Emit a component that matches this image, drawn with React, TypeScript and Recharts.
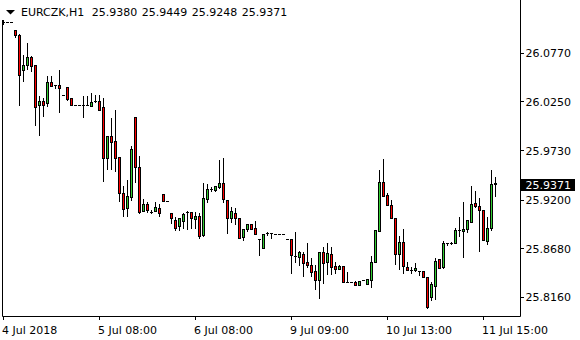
import React from 'react';
import { ComposedChart, Bar, XAxis, YAxis, ReferenceLine } from 'recharts';

const symbolLabel = 'EURCZK,H1';

const opens = [
  26.1105, 26.1105, 26.1105, 26.1014, 26.0971, 26.0591, 26.0648, 26.0730, 26.0645, 26.0214,
  26.0260, 26.0235, 26.0463, 26.0426, 26.0431, 26.0327, 26.0410, 26.0289, 26.0214, 26.0214,
  26.0214, 26.0214, 26.0206, 26.0263, 26.0257, 26.0192, 25.9653, 25.9885, 25.9829, 25.9664,
  25.9273, 25.9112, 25.9230, 26.0086, 25.9554, 25.9083, 25.9158, 25.9076, 25.9083, 25.9115,
  25.9262, 25.9190, 25.9059, 25.8987, 25.8923, 25.8980, 25.9070, 25.9076, 25.9001, 25.9030,
  25.8827, 25.9209, 25.9322, 25.9311, 25.9343, 25.9380, 25.9204, 25.9012, 25.9065, 25.9005,
  25.8802, 25.8888, 25.8944, 25.8902, 25.8784, 25.8684, 25.8845, 25.8845, 25.8834, 25.8834,
  25.8834, 25.8781, 25.8781, 25.8602, 25.8595, 25.8624, 25.8538, 25.8509, 25.8442, 25.8345,
  25.8642, 25.8535, 25.8624, 25.8495, 25.8466, 25.8495, 25.8327, 25.8327, 25.8321, 25.8295,
  25.8345, 25.8299, 25.8345, 25.8541, 25.8869, 25.9390, 25.9254, 25.9148, 25.9005, 25.8620,
  25.8749, 25.8488, 25.8452, 25.8452, 25.8438, 25.8438, 25.8374, 25.8167, 25.8281, 25.8567,
  25.8481, 25.8738, 25.8744, 25.8738, 25.8877, 25.8866, 25.8891, 25.8969, 25.9169, 25.9134,
  25.9094, 25.8762, 25.8898, 25.9380,
];

const highs = [
  26.1126, 26.1105, 26.1105, 26.1019, 26.0976, 26.0752, 26.0883, 26.0741, 26.0645, 26.0313,
  26.0292, 26.0527, 26.0527, 26.0436, 26.0591, 26.0327, 26.0410, 26.0289, 26.0214, 26.0214,
  26.0313, 26.0313, 26.0342, 26.0327, 26.0327, 26.0289, 25.9885, 26.0078, 26.0164, 25.9664,
  25.9351, 25.9415, 25.9779, 26.0086, 25.9672, 25.9212, 25.9183, 25.9094, 25.9176, 25.9158,
  25.9262, 25.9190, 25.9059, 25.9022, 25.9012, 25.9059, 25.9087, 25.9076, 25.9073, 25.9065,
  25.9380, 25.9369, 25.9337, 25.9348, 25.9629, 25.9647, 25.9204, 25.9129, 25.9112, 25.9005,
  25.8891, 25.8944, 25.8944, 25.8973, 25.8784, 25.8837, 25.8856, 25.8845, 25.8834, 25.8834,
  25.8834, 25.8781, 25.8781, 25.8856, 25.8656, 25.8648, 25.8744, 25.8578, 25.8503, 25.8642,
  25.8702, 25.8738, 25.8702, 25.8541, 25.8503, 25.8495, 25.8428, 25.8327, 25.8338, 25.8332,
  25.8345, 25.8356, 25.8602, 25.8880, 25.9522, 25.9636, 25.9273, 25.9201, 25.9005, 25.8816,
  25.8891, 25.8535, 25.8488, 25.8524, 25.8438, 25.8438, 25.8381, 25.8327, 25.8578, 25.8567,
  25.8766, 25.8738, 25.8755, 25.8898, 25.9022, 25.9176, 25.8987, 25.9351, 25.9297, 25.9219,
  25.9094, 25.9016, 25.9522, 25.9449,
];

const lows = [
  26.1083, 26.1105, 26.1105, 26.0941, 26.0217, 26.0477, 26.0605, 26.0584, 26.0003, 25.9896,
  26.0099, 26.0206, 26.0420, 26.0399, 26.0142, 26.0327, 26.0270, 26.0220, 26.0214, 26.0214,
  26.0092, 26.0214, 26.0206, 26.0249, 26.0160, 25.9407, 25.9529, 25.9529, 25.9514, 25.9194,
  25.9033, 25.9033, 25.9201, 25.9394, 25.9059, 25.9083, 25.9076, 25.9059, 25.9083, 25.9030,
  25.9190, 25.9190, 25.8958, 25.8880, 25.8880, 25.8902, 25.8891, 25.8905, 25.8902, 25.8798,
  25.8816, 25.9183, 25.9300, 25.9300, 25.9326, 25.9183, 25.8845, 25.8969, 25.8944, 25.8791,
  25.8773, 25.8873, 25.8894, 25.8837, 25.8613, 25.8684, 25.8830, 25.8791, 25.8834, 25.8834,
  25.8834, 25.8781, 25.8424, 25.8541, 25.8506, 25.8388, 25.8488, 25.8388, 25.8246, 25.8156,
  25.8310, 25.8410, 25.8410, 25.8417, 25.8466, 25.8327, 25.8327, 25.8327, 25.8295, 25.8295,
  25.8345, 25.8299, 25.8274, 25.8541, 25.8869, 25.9247, 25.9148, 25.9012, 25.8513, 25.8460,
  25.8417, 25.8452, 25.8417, 25.8445, 25.8399, 25.8381, 25.8049, 25.8132, 25.8139, 25.8471,
  25.8471, 25.8720, 25.8734, 25.8738, 25.8816, 25.8595, 25.8862, 25.8969, 25.9129, 25.8659,
  25.8770, 25.8727, 25.8880, 25.9248,
];

const closes = [
  26.1105, 26.1105, 26.1105, 26.0966, 26.0533, 26.0642, 26.0727, 26.0637, 26.0199, 26.0257,
  26.0220, 26.0463, 26.0420, 26.0426, 26.0399, 26.0327, 26.0284, 26.0220, 26.0214, 26.0214,
  26.0214, 26.0214, 26.0249, 26.0263, 26.0160, 25.9653, 25.9885, 25.9825, 25.9653, 25.9273,
  25.9102, 25.9244, 25.9746, 25.9557, 25.9076, 25.9155, 25.9091, 25.9076, 25.9126, 25.9059,
  25.9190, 25.9190, 25.9009, 25.8905, 25.9012, 25.9048, 25.9070, 25.9005, 25.9030, 25.8816,
  25.9219, 25.9315, 25.9322, 25.9348, 25.9383, 25.9209, 25.9012, 25.9083, 25.9005, 25.8798,
  25.8891, 25.8944, 25.8894, 25.8837, 25.8784, 25.8837, 25.8845, 25.8845, 25.8834, 25.8834,
  25.8834, 25.8781, 25.8610, 25.8602, 25.8642, 25.8530, 25.8509, 25.8434, 25.8345, 25.8642,
  25.8524, 25.8631, 25.8488, 25.8466, 25.8495, 25.8327, 25.8327, 25.8327, 25.8295, 25.8332,
  25.8345, 25.8356, 25.8535, 25.8880, 25.9390, 25.9247, 25.9148, 25.9012, 25.8620, 25.8749,
  25.8495, 25.8452, 25.8452, 25.8474, 25.8438, 25.8381, 25.8060, 25.8303, 25.8549, 25.8471,
  25.8738, 25.8738, 25.8744, 25.8880, 25.8877, 25.8891, 25.8987, 25.9158, 25.9140, 25.9097,
  25.8770, 25.8898, 25.9369, 25.9371,
];

const priceTicks = [26.077, 26.025, 25.973, 25.92, 25.868, 25.816];
const timeTickIndexes = [0, 24, 48, 72, 96, 120];
const timeTickLabels = ['4 Jul 2018', '5 Jul 08:00', '6 Jul 08:00', '9 Jul 09:00', '10 Jul 13:00', '11 Jul 15:00'];

const BULL = '#32CD32';
const BEAR = '#FF0000';
const FONT = 'DejaVu Sans';

const data = opens.map((o, i) => ({
  i,
  o,
  h: highs[i],
  l: lows[i],
  c: closes[i],
  hl: [lows[i], highs[i]],
}));
const last = data[data.length - 1];

function Candle(props: any) {
  const { x, y, width, height, payload } = props;
  if (x == null || y == null || !payload) return null;
  const col = Math.floor(x + width / 2 + 0.25);
  const top = Math.min(y, y + (height || 0));
  const bot = Math.max(y, y + (height || 0));
  const span = payload.h - payload.l;
  const toY = (v: number) => (span > 0 ? top + ((payload.h - v) / span) * (bot - top) : top);
  const rH = Math.round(top);
  const rL = Math.round(bot);
  const rO = Math.round(toY(payload.o));
  const rC = Math.round(toY(payload.c));
  const rT = Math.min(rO, rC);
  const rB = Math.max(rO, rC);
  const color = payload.c > payload.o ? BULL : BEAR;
  return (
    <g>
      <rect x={col} y={rH} width={1} height={rL - rH + 1} fill="#000" />
      {rB - rT >= 1 ? (
        <g>
          <rect x={col - 1} y={rT} width={3} height={rB - rT + 1} fill="#000" />
          {rB - rT >= 2 ? <rect x={col} y={rT + 1} width={1} height={rB - rT - 1} fill={color} /> : null}
        </g>
      ) : (
        <rect x={col - 1} y={rT} width={3} height={1} fill="#000" />
      )}
    </g>
  );
}

function TimeTick(props: any) {
  const { x, y, payload } = props;
  const k = timeTickIndexes.indexOf(payload.value);
  const label = k >= 0 ? timeTickLabels[k] : '';
  return (
    <g>
      <rect x={Math.floor(x)} y={Math.ceil(y - 3)} width={1} height={3} fill="#000" />
      <text x={x - 1.5} y={y + 14} fontFamily={FONT} fontSize={11} fill="#000" textAnchor="start">
        {label}
      </text>
    </g>
  );
}

function PriceTick(props: any) {
  const { x, y, payload } = props;
  const v = payload.value;
  const label = Number(v).toFixed(4);
  if (v === last.c) {
    return (
      <g>
        <rect x={x - 4.5} y={Math.round(y) - 5} width={54} height={12} fill="#000" />
        <text x={x} y={y + 4.5} fontFamily={FONT} fontSize={11} fill="#fff" textAnchor="start">
          {label}
        </text>
      </g>
    );
  }
  return (
    <g>
      <rect x={x - 4.5} y={Math.floor(y)} width={3} height={1} fill="#000" />
      <text x={x} y={y + 4} fontFamily={FONT} fontSize={11} fill="#000" textAnchor="start">
        {label}
      </text>
    </g>
  );
}

export default function App() {
  const titleValues = [last.o, last.h, last.l, last.c];
  return (
    <div style={{ position: 'absolute', left: 0, top: 0, width: 580, height: 340, background: '#fff' }}>
      <ComposedChart width={580} height={340} data={data} margin={{ top: 0, right: 0, bottom: 0, left: 2.5 }}>
        <XAxis
          dataKey="i"
          type="number"
          domain={[-0.25, 129.25]}
          allowDataOverflow
          ticks={timeTickIndexes}
          interval={0}
          height={23.5}
          tickSize={3}
          tickMargin={0}
          axisLine={{ stroke: '#000' }}
          tickLine={false}
          tick={(p: any) => <TimeTick {...p} />}
        />
        <YAxis
          orientation="right"
          type="number"
          domain={[25.7955, 26.134]}
          allowDataOverflow
          ticks={[...priceTicks, last.c]}
          interval={0}
          width={59.5}
          tickSize={3}
          tickMargin={2}
          axisLine={{ stroke: '#000' }}
          tickLine={false}
          tick={(p: any) => <PriceTick {...p} />}
        />
        <ReferenceLine
          segment={[
            { x: -0.25, y: 26.1126 },
            { x: -0.25, y: 25.7955 },
          ]}
          stroke="#000"
          ifOverflow="visible"
        />
        <Bar dataKey="hl" barSize={3} shape={(p: any) => <Candle {...p} />} isAnimationActive={false} />
      </ComposedChart>
      <svg style={{ position: 'absolute', left: 0, top: 0 }} width={580} height={20}>
        <polygon points="6,10 15,10 10.5,14.5" fill="#000" />
        <text x={21} y={16} fontFamily={FONT} fontSize={11} fill="#000">
          {symbolLabel}
        </text>
        {titleValues.map((v, k) => (
          <text key={k} x={91.7 + 50 * k} y={16} fontFamily={FONT} fontSize={11} fill="#000">
            {v.toFixed(4)}
          </text>
        ))}
      </svg>
    </div>
  );
}
